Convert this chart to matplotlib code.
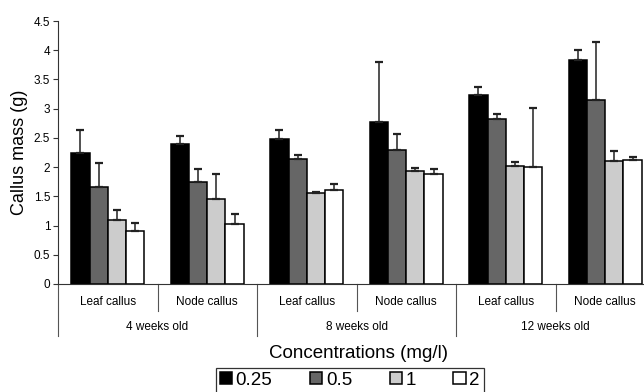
import numpy as np
import matplotlib
matplotlib.use("Agg")
import matplotlib.pyplot as plt

plt.rcParams['font.family'] = ['Liberation Sans', 'DejaVu Sans']

# Callus mass (g) per explant / age, one list per concentration (mg/l)
tissues = ["Leaf callus", "Node callus"] * 3
ages = ["4 weeks old", "8 weeks old", "12 weeks old"]
concentrations = ["0.25", "0.5", "1", "2"]

mass_025 = [2.24, 2.39, 2.48, 2.78, 3.23, 3.83]
mass_05 = [1.66, 1.75, 2.14, 2.30, 2.82, 3.14]
mass_1 = [1.09, 1.46, 1.56, 1.93, 2.02, 2.11]
mass_2 = [0.90, 1.03, 1.60, 1.88, 2.00, 2.13]

err_025 = [0.40, 0.15, 0.16, 1.01, 0.14, 0.17]
err_05 = [0.41, 0.22, 0.06, 0.27, 0.09, 1.00]
err_1 = [0.17, 0.42, 0.01, 0.05, 0.07, 0.17]
err_2 = [0.14, 0.16, 0.11, 0.08, 1.01, 0.05]

means = [mass_025, mass_05, mass_1, mass_2]
errors = [err_025, err_05, err_1, err_2]
colors = ["#000000", "#666666", "#cccccc", "#ffffff"]

fig = plt.figure(figsize=(6.44, 3.92), dpi=100)
# axes runs a little past the right edge, as in the original layout
ax = fig.add_axes([58/644, 108/392, 597/644, 263/392])

x = np.arange(len(tissues)) + 0.5
w = 0.183
handles = []
for k in range(4):
    pos = x + (k - 1.5) * w
    err = np.array(errors[k])
    b = ax.bar(pos, means[k], w, color=colors[k], edgecolor="black", linewidth=1.1,
               yerr=[np.zeros_like(err), err], capsize=3.2,
               error_kw=dict(ecolor="#222222", elinewidth=1.1, capthick=1.6),
               label=concentrations[k], zorder=2)
    handles.append(b)

ax.set_xlim(0, 6)
ax.set_ylim(0, 4.5)
ax.set_yticks(np.arange(0, 4.6, 0.5))
ax.set_yticklabels(["0", "0.5", "1", "1.5", "2", "2.5", "3", "3.5", "4", "4.5"])
ax.tick_params(axis="y", direction="out", length=3.6, width=0.8, labelsize=8.5, pad=2,
               color="#333333")
ax.set_xticks([])
ax.spines["right"].set_visible(False)
ax.spines["top"].set_visible(False)
ax.spines["left"].set_color("#333333")
ax.spines["bottom"].set_color("#333333")
ax.spines["left"].set_linewidth(0.8)
ax.spines["bottom"].set_linewidth(0.8)

ax.set_ylabel("Callus mass (g)", fontsize=13, labelpad=4)

# two-level category axis
trans = ax.get_xaxis_transform()
for i in range(6):
    ax.text(x[i], -0.068, tissues[i], transform=trans, ha="center", va="center",
            fontsize=8.5)
for i in [1, 3, 5]:
    ax.plot([i, i], [0, -0.103], transform=trans, color="#555555", lw=0.8, clip_on=False)
for i in [0, 2, 4, 6]:
    ax.plot([i, i], [0, -0.198], transform=trans, color="#555555", lw=0.8, clip_on=False)
for j, age in enumerate(ages):
    ax.text(2 * j + 1, -0.163, age, transform=trans, ha="center", va="center",
            fontsize=8.5)

fig.text(0.557, 1 - 354/392, "Concentrations (mg/l)", ha="center", va="center",
         fontsize=13.5)

leg = fig.legend(handles=handles, loc="upper center", bbox_to_anchor=(0.543, 1 - 368/392),
                 ncol=4, fontsize=13.5, frameon=True, fancybox=False, edgecolor="black",
                 handlelength=0.65, handleheight=0.65, handletextpad=0.2,
                 columnspacing=2.0, borderpad=0.2, borderaxespad=0)
leg.get_frame().set_linewidth(0.9)

fig.savefig("out.png", dpi=100)
